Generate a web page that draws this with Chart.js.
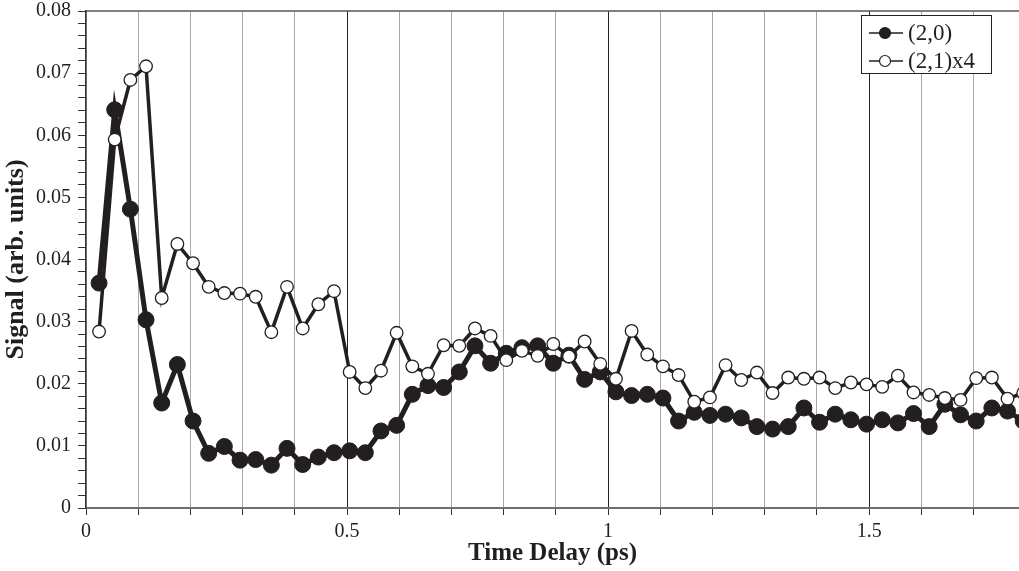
<!DOCTYPE html>
<html>
<head>
<meta charset="utf-8">
<script src="https://cdn.jsdelivr.net/npm/chart.js@4/dist/chart.umd.min.js"></script>
<style>
  html, body { margin: 0; padding: 0; background: #fff; }
  #wrap { width: 1019px; height: 571px; position: relative; }
</style>
</head>
<body>
<div id="wrap"><canvas id="c" width="1019" height="571"></canvas></div>
<script>
// Time delays (ps)
const timeDelay = [0.025, 0.055, 0.085, 0.115, 0.145, 0.175, 0.205, 0.235, 0.265, 0.295,
  0.325, 0.355, 0.385, 0.415, 0.445, 0.475, 0.505, 0.535, 0.565, 0.595,
  0.625, 0.655, 0.685, 0.715, 0.745, 0.775, 0.805, 0.835, 0.865, 0.895,
  0.925, 0.955, 0.985, 1.015, 1.045, 1.075, 1.105, 1.135, 1.165, 1.195,
  1.225, 1.255, 1.285, 1.315, 1.345, 1.375, 1.405, 1.435, 1.465, 1.495,
  1.525, 1.555, 1.585, 1.615, 1.645, 1.675, 1.705, 1.735, 1.765, 1.795];

// (2,0) signal
const signal20 = [0.0362, 0.0641, 0.0481, 0.0303, 0.0169, 0.0231, 0.0140, 0.0088, 0.0099, 0.0077,
  0.0078, 0.0069, 0.0096, 0.0070, 0.0082, 0.0089, 0.0092, 0.0089, 0.0124, 0.0133,
  0.0183, 0.0197, 0.0194, 0.0219, 0.0261, 0.0233, 0.0249, 0.0258, 0.0261, 0.0233,
  0.0246, 0.0207, 0.0219, 0.0187, 0.0181, 0.0183, 0.0177, 0.0140, 0.0154, 0.0149,
  0.0151, 0.0145, 0.0131, 0.0127, 0.0131, 0.0161, 0.0138, 0.0151, 0.0142, 0.0135,
  0.0142, 0.0137, 0.0152, 0.0131, 0.0167, 0.0150, 0.0140, 0.0161, 0.0156, 0.0140];

// (2,1)x4 signal
const signal21x4 = [0.0284, 0.0593, 0.0689, 0.0711, 0.0338, 0.0425, 0.0394, 0.0356, 0.0346, 0.0345,
  0.0340, 0.0283, 0.0356, 0.0289, 0.0328, 0.0349, 0.0219, 0.0193, 0.0221, 0.0282,
  0.0228, 0.0216, 0.0262, 0.0261, 0.0289, 0.0277, 0.0238, 0.0253, 0.0245, 0.0264,
  0.0244, 0.0268, 0.0232, 0.0208, 0.0285, 0.0247, 0.0228, 0.0214, 0.0171, 0.0178,
  0.0230, 0.0206, 0.0218, 0.0185, 0.0210, 0.0208, 0.0210, 0.0193, 0.0202, 0.0199,
  0.0195, 0.0213, 0.0186, 0.0182, 0.0177, 0.0174, 0.0209, 0.0210, 0.0176, 0.0185];

const seriesLabels = ['(2,0)', '(2,1)x4'];
const xTickValues = [0, 0.1, 0.2, 0.3, 0.4, 0.5, 0.6, 0.7, 0.8, 0.9, 1.0, 1.1, 1.2, 1.3, 1.4, 1.5, 1.6, 1.7];
const xLabelValues = [0, 0.5, 1, 1.5];
const yTickValues = [];
for (let i = 0; i <= 40; i++) yTickValues.push(+(i * 0.002).toFixed(3));
const yLabelValues = [0, 0.01, 0.02, 0.03, 0.04, 0.05, 0.06, 0.07, 0.08];

const INK = '#231f20';
const SERIF = "'Liberation Serif', 'Times New Roman', serif";

const toXY = (vals) => vals.map((v, i) => ({ x: timeDelay[i], y: v }));
const near = (v, list) => list.some(l => Math.abs(l - v) < 1e-6);

const framePlugin = {
  id: 'frame',
  afterDraw(chart) {
    const { ctx, chartArea: a } = chart;
    ctx.save();
    // top border
    ctx.strokeStyle = '#555';
    ctx.lineWidth = 1.5;
    ctx.beginPath();
    ctx.moveTo(a.left, a.top);
    ctx.lineTo(a.right, a.top);
    ctx.stroke();

    // legend
    const bx = 861, by = 15, bw = 130, bh = 58;
    ctx.fillStyle = '#fff';
    ctx.fillRect(bx, by, bw, bh);
    ctx.strokeStyle = '#222';
    ctx.lineWidth = 1;
    ctx.strokeRect(bx + 0.5, by + 0.5, bw, bh);
    const rows = [33, 61];
    ctx.font = '23px ' + SERIF;
    ctx.textBaseline = 'middle';
    ctx.textAlign = 'left';
    rows.forEach((ry, i) => {
      ctx.strokeStyle = INK;
      ctx.lineWidth = 1.5;
      ctx.beginPath();
      ctx.moveTo(869, ry);
      ctx.lineTo(903, ry);
      ctx.stroke();
      ctx.beginPath();
      ctx.arc(885, ry, 5.5, 0, Math.PI * 2);
      ctx.fillStyle = i === 0 ? INK : '#fff';
      ctx.fill();
      ctx.lineWidth = 1.2;
      ctx.stroke();
      ctx.fillStyle = INK;
      ctx.fillText(seriesLabels[i], 908, ry + 1);
    });
    ctx.restore();
  }
};

new Chart(document.getElementById('c'), {
  type: 'line',
  data: {
    datasets: [
      {
        label: seriesLabels[0],
        data: toXY(signal20),
        borderColor: INK,
        borderWidth: 5,
        backgroundColor: INK,
        pointBackgroundColor: INK,
        pointBorderColor: INK,
        pointBorderWidth: 1,
        pointRadius: 8,
        tension: 0,
        order: 1
      },
      {
        label: seriesLabels[1],
        data: toXY(signal21x4),
        borderColor: INK,
        borderWidth: 3.5,
        backgroundColor: '#fff',
        pointBackgroundColor: '#fff',
        pointBorderColor: INK,
        pointBorderWidth: 1.3,
        pointRadius: 6.3,
        tension: 0,
        order: 0
      }
    ]
  },
  options: {
    responsive: false,
    animation: false,
    layout: { autoPadding: false, padding: { top: 11, right: 0, bottom: 0, left: 0 } },
    plugins: { legend: { display: false }, tooltip: { enabled: false } },
    scales: {
      x: {
        type: 'linear',
        min: 0,
        max: 1.787,
        afterBuildTicks: (s) => { s.ticks = xTickValues.map(v => ({ value: v })); },
        afterFit: (s) => { s.height = 63; s.paddingLeft = 0; s.paddingRight = 0; },
        ticks: {
          autoSkip: false,
          maxRotation: 0,
          padding: 5,
          color: INK,
          font: { family: SERIF, size: 20 },
          callback: (v) => near(v, xLabelValues) ? String(+v.toFixed(1)) : ''
        },
        grid: {
          drawOnChartArea: true,
          tickLength: 7,
          tickColor: '#333',
          lineWidth: 1,
          color: (c) => (c.tick && near(c.tick.value, [0.5, 1, 1.5])) ? '#222' : '#a8a8a8'
        },
        border: { color: '#6e6e6e', width: 2 },
        title: {
          display: true,
          text: 'Time Delay (ps)',
          color: INK,
          font: { family: SERIF, size: 25, weight: 'bold' },
          padding: { top: 0, bottom: 2 }
        }
      },
      y: {
        type: 'linear',
        min: 0,
        max: 0.08,
        afterBuildTicks: (s) => { s.ticks = yTickValues.map(v => ({ value: v })); },
        afterFit: (s) => { s.width = 86; s.paddingTop = 0; s.paddingBottom = 0; },
        ticks: {
          autoSkip: false,
          padding: 7,
          color: INK,
          font: { family: SERIF, size: 20 },
          callback: (v) => near(v, yLabelValues) ? (v === 0 ? '0' : v.toFixed(2)) : ''
        },
        grid: {
          drawOnChartArea: false,
          tickLength: 8,
          tickColor: '#333',
          lineWidth: 1
        },
        border: { color: '#333', width: 1.5 },
        title: {
          display: true,
          text: 'Signal (arb. units)',
          color: INK,
          font: { family: SERIF, size: 26, weight: 'bold' },
          padding: { top: 1, bottom: 0 }
        }
      }
    }
  },
  plugins: [framePlugin]
});
</script>
</body>
</html>
